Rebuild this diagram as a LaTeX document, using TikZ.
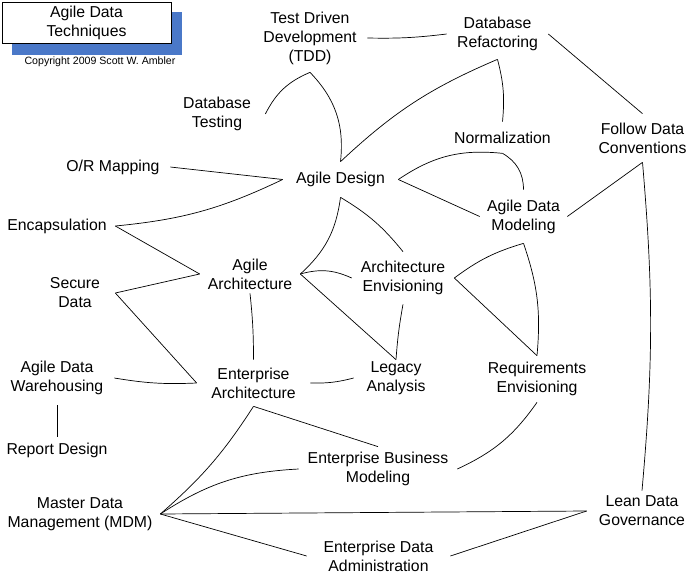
\documentclass[tikz,border=0pt]{standalone}
\usepackage{fontspec}
\setmainfont{Liberation Sans}

\definecolor{shadowblue}{RGB}{74,120,200}

\begin{document}
\begin{tikzpicture}[x=1pt,y=-1pt,line width=0.7pt,
    topic node/.style={inner sep=0pt,align=center,font=\fontsize{15.8}{19}\selectfont}]
\useasboundingbox (0,0) rectangle (689,576);

\fill[shadowblue] (12,12) rectangle (182,55);
\node[topic node, draw, fill=white, minimum width=169, minimum height=41] (0) at (86.5,22.5) {Agile Data\\Techniques};
\node[font=\fontsize{10.6}{12}\selectfont, inner sep=0pt] (c) at (100,62) {Copyright 2009 Scott W. Ambler};

\node[topic node, minimum width=114, minimum height=68] (1) at (310,38) {Test Driven\\Development\\(TDD)};
\node[topic node, minimum width=101, minimum height=50] (2) at (497.5,34) {Database\\Refactoring};
\node[topic node, minimum width=96, minimum height=50] (3) at (217,114) {Database\\Testing};
\node[topic node, minimum width=110, minimum height=31] (4) at (502.5,137.5) {Normalization};
\node[topic node, minimum width=100, minimum height=48] (5) at (642.5,138) {Follow Data\\Conventions};
\node[topic node, minimum width=114, minimum height=26] (6) at (113,167) {O/R Mapping};
\node[topic node, minimum width=115, minimum height=35] (7) at (340.5,179.5) {Agile Design};
\node[topic node, minimum width=87, minimum height=53] (8) at (523.5,216.5) {Agile Data\\Modeling};
\node[topic node, minimum width=116, minimum height=26] (9) at (57,226) {Encapsulation};
\node[topic node, minimum width=100, minimum height=38] (10) at (250,274) {Agile\\Architecture};
\node[topic node, minimum width=102, minimum height=52] (11) at (403,278) {Architecture\\Envisioning};
\node[topic node, minimum width=80, minimum height=40] (12) at (75,293) {Secure\\Data};
\node[topic node, minimum width=114, minimum height=54] (13) at (57,378) {Agile Data\\Warehousing};
\node[topic node, minimum width=113, minimum height=46] (14) at (253.5,383) {Enterprise\\Architecture};
\node[topic node, minimum width=84, minimum height=36] (15) at (396,378) {Legacy\\Analysis};
\node[topic node, minimum width=110, minimum height=46] (16) at (537,379) {Requirements\\Envisioning};
\node[topic node, minimum width=100, minimum height=26] (17) at (57,450) {Report Design};
\node[topic node, minimum width=158, minimum height=44] (18) at (378,469) {Enterprise Business\\Modeling};
\node[topic node, minimum width=160, minimum height=40] (19) at (80,514) {Master Data\\Management (MDM)};
\node[topic node, minimum width=110, minimum height=40] (20) at (642,511) {Lean Data\\Governance};
\node[topic node, minimum width=143, minimum height=30] (21) at (378.5,556) {Enterprise Data\\Administration};

\path
(1.east) edge[bend right=4] (2.west)
(3.east) edge[bend left=20] (1.south)
(1.south) edge[bend left=25] (7.north)
(7.north) edge[bend left=10] (2.south)
(2.south) edge[bend left=10] (4.north)
(2.east) edge (5.north)
(7.east) edge[bend left=20] (4.south)
(4.south) edge[bend left=30] (8.north)
(7.east) edge (8.west)
(8.east) edge (5.south)
(5.south) edge[bend left=5] (20.north)
(6.east) edge (7.west)
(9.east) edge[bend right=10] (7.west)
(9.east) edge (10.west)
(12.east) edge (10.west)
(12.east) edge (14.west)
(13.east) edge[bend right=6] (14.west)
(13.south) edge (17.north)
(10.south) edge[bend left=3] (14.north)
(7.south) edge[bend left=20] (10.east)
(7.south) edge[bend left=10] (11.north)
(10.east) edge[bend left=20] (11.west)
(10.east) edge (15.north)
(11.south) edge[bend right=3] (15.north)
(14.east) edge[bend right=8] (15.west)
(11.east) edge[bend left=10] (8.south)
(11.east) edge (16.north)
(8.south) edge[bend left=12] (16.north)
(16.south) edge[bend left=15] (18.east)
(14.south) edge (18.north)
(14.south) edge[bend left=8] (19.east)
(19.east) edge[bend left=15] (18.west)
(19.east) edge (20.west)
(19.east) edge (21.west)
(21.east) edge (20.west)
;

\end{tikzpicture}
\end{document}
